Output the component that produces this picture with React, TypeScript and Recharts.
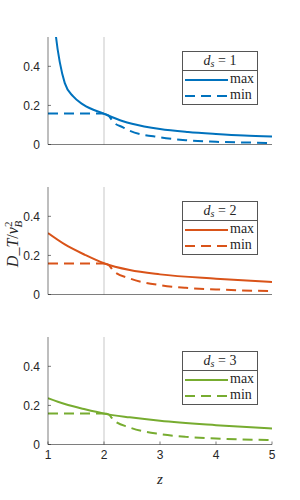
import React from 'react';
import { LineChart, Line, XAxis, YAxis, ReferenceLine, Legend } from 'recharts';

// ---- data ----
const xTicks = [1, 2, 3, 4, 5];
const yTicks = [0, 0.2, 0.4];
const panelLabels = ['1', '2', '3'];
const seriesNames = ['max', 'min'];
const colors = ['#0072BD', '#D95319', '#77AC30'];
const guideZ = 2;

const z1Max = [1.1, 1.143, 1.214, 1.3, 1.45, 1.63, 2.0, 2.34, 2.5, 3, 3.5, 4, 4.5, 5];
const v1Max = [0.68, 0.55, 0.416, 0.314, 0.246, 0.204, 0.157, 0.119, 0.106, 0.079, 0.064, 0.054, 0.046, 0.041];
const z1Min = [1, 2, 2.08, 2.17, 2.34, 2.46, 3, 3.46, 4, 4.9, 5];
const v1Min = [0.158, 0.158, 0.148, 0.114, 0.088, 0.07, 0.037, 0.022, 0.014, 0.008, 0.007];

const z2Max = [1, 1.3, 1.66, 2.0, 2.46, 3, 4, 5];
const v2Max = [0.314, 0.256, 0.203, 0.16, 0.125, 0.103, 0.081, 0.064];
const z2Min = [1, 2, 2.08, 2.17, 2.46, 3, 3.46, 4, 5];
const v2Min = [0.158, 0.158, 0.152, 0.12, 0.082, 0.048, 0.034, 0.026, 0.017];

const z3Max = [1, 1.3, 1.66, 2.0, 2.46, 3, 4, 5];
const v3Max = [0.237, 0.207, 0.18, 0.158, 0.139, 0.121, 0.099, 0.082];
const z3Min = [1, 2, 2.08, 2.17, 2.46, 3, 3.46, 4, 5];
const v3Min = [0.158, 0.158, 0.154, 0.125, 0.087, 0.053, 0.039, 0.031, 0.022];

const zip = (zs: number[], vs: number[]) => zs.map((z, i) => ({ z, v: vs[i] }));

const panels = [
  { max: zip(z1Max, v1Max), min: zip(z1Min, v1Min) },
  { max: zip(z2Max, v2Max), min: zip(z2Min, v2Min) },
  { max: zip(z3Max, v3Max), min: zip(z3Min, v3Min) },
];

// ---- layout / style ----
const plotTops = [37, 187.3, 337.3];
const PLOT_H = 107.5;
const CH = 170;
const MT = 10;
const AX = '#262626';
const serif = '"Liberation Serif", "DejaVu Serif", serif';
const sans = '"Liberation Sans", Arial, sans-serif';
const DASH = '10 6';

function LegendBox({ idx }: { idx: number }) {
  const color = colors[idx];
  return (
    <div
      style={{
        width: 76,
        height: 54,
        boxSizing: 'border-box',
        border: '1px solid #555',
        background: '#fff',
        fontFamily: serif,
        fontSize: 14,
        color: AX,
      }}
    >
      <div
        style={{
          height: 18,
          borderBottom: '1px solid #555',
          display: 'flex',
          alignItems: 'center',
          justifyContent: 'center',
          whiteSpace: 'nowrap',
        }}
      >
        <span style={{ fontStyle: 'italic' }}>d</span>
        <span style={{ fontStyle: 'italic', fontSize: 10, position: 'relative', top: 3 }}>s</span>
        <span>&nbsp;= {panelLabels[idx]}</span>
      </div>
      <div style={{ paddingTop: 1 }}>
        {seriesNames.map((name, i) => (
          <div key={name} style={{ height: 16, display: 'flex', alignItems: 'center' }}>
            <svg width={47} height={16} style={{ display: 'block' }}>
              <line
                x1={2}
                x2={45}
                y1={8}
                y2={8}
                stroke={color}
                strokeWidth={2}
                strokeDasharray={i === 1 ? DASH : undefined}
              />
            </svg>
            <span style={{ lineHeight: '16px', marginTop: -2 }}>{name}</span>
          </div>
        ))}
      </div>
    </div>
  );
}

const YLabel = () => {
  const x = 18;
  const y = 67;
  return (
    <text
      x={x}
      y={y}
      transform={`rotate(-90, ${x}, ${y})`}
      textAnchor="middle"
      fontFamily={serif}
      fontSize={16}
      fill={AX}
    >
      <tspan fontStyle="italic">D</tspan>
      <tspan>_</tspan>
      <tspan fontStyle="italic">T</tspan>
      <tspan>/</tspan>
      <tspan fontStyle="italic">v</tspan>
      <tspan fontSize={11} dy={-6}>2</tspan>
      <tspan fontSize={11} fontStyle="italic" dx={-6} dy={10}>B</tspan>
    </text>
  );
};

const ZLabel = () => (
  <text x={160} y={MT + PLOT_H + 39} textAnchor="middle" fontFamily={serif} fontSize={15} fontStyle="italic" fill={AX}>
    z
  </text>
);

function Panel({ idx }: { idx: number }) {
  const color = colors[idx];
  const d = panels[idx];
  const minFlat = d.min.filter((p) => p.z <= guideZ);
  const minDecay = d.min.filter((p) => p.z >= guideZ);
  const showX = idx === 2;
  const axisLine = { stroke: AX, strokeWidth: 0.6 };
  const common = { stroke: color, strokeWidth: 2, dot: false, isAnimationActive: false } as const;
  return (
    <div style={{ position: 'absolute', left: 0, top: plotTops[idx] - MT, width: 300, height: CH }}>
      <LineChart width={300} height={CH} margin={{ top: MT, right: 28, bottom: CH - MT - PLOT_H - 30, left: 8 }}>
        <XAxis
          type="number"
          dataKey="z"
          domain={[1, 5]}
          ticks={xTicks}
          allowDataOverflow
          height={30}
          tickSize={-3}
          tickMargin={9}
          axisLine={axisLine}
          tickLine={axisLine}
          tick={showX ? { fill: AX, fontSize: 12, fontFamily: sans } : false}
          label={showX ? ZLabel : undefined}
        />
        <XAxis
          xAxisId="t"
          orientation="top"
          type="number"
          dataKey="z"
          domain={[1, 5]}
          ticks={xTicks}
          allowDataOverflow
          height={0}
          tickSize={-3}
          axisLine={axisLine}
          tickLine={axisLine}
          tick={false}
        />
        <YAxis
          type="number"
          domain={[0, 0.55]}
          ticks={yTicks}
          allowDataOverflow
          width={40}
          tickSize={-3}
          tickMargin={11}
          axisLine={axisLine}
          tickLine={axisLine}
          tick={{ fill: AX, fontSize: 12, fontFamily: sans }}
          label={idx === 1 ? YLabel : undefined}
        />
        <YAxis
          yAxisId="r"
          orientation="right"
          type="number"
          domain={[0, 0.55]}
          ticks={yTicks}
          allowDataOverflow
          width={0}
          tickSize={-3}
          axisLine={axisLine}
          tickLine={axisLine}
          tick={false}
        />
        <ReferenceLine x={guideZ} stroke="#d0d0d0" strokeWidth={1.2} />
        <Line data={d.max} dataKey="v" name={seriesNames[0]} type="monotone" {...common} />
        <Line
          data={minFlat}
          dataKey="v"
          name={seriesNames[1]}
          xAxisId="t"
          yAxisId="r"
          type="linear"
          strokeDasharray={DASH}
          {...common}
        />
        <Line
          data={minDecay}
          dataKey="v"
          name={seriesNames[1] + ' '}
          xAxisId="t"
          yAxisId="r"
          type="monotone"
          strokeDasharray={DASH}
          {...common}
        />
        <Legend
          layout="horizontal"
          verticalAlign="middle"
          align="center"
          wrapperStyle={{ left: 182, top: MT + 13.7, width: 76, height: 54 }}
          content={() => <LegendBox idx={idx} />}
        />
      </LineChart>
    </div>
  );
}

export default function App() {
  return (
    <div style={{ position: 'absolute', left: 0, top: 0, width: 300, height: 500, background: '#fff' }}>
      {[0, 1, 2].map((i) => (
        <Panel key={i} idx={i} />
      ))}
    </div>
  );
}
